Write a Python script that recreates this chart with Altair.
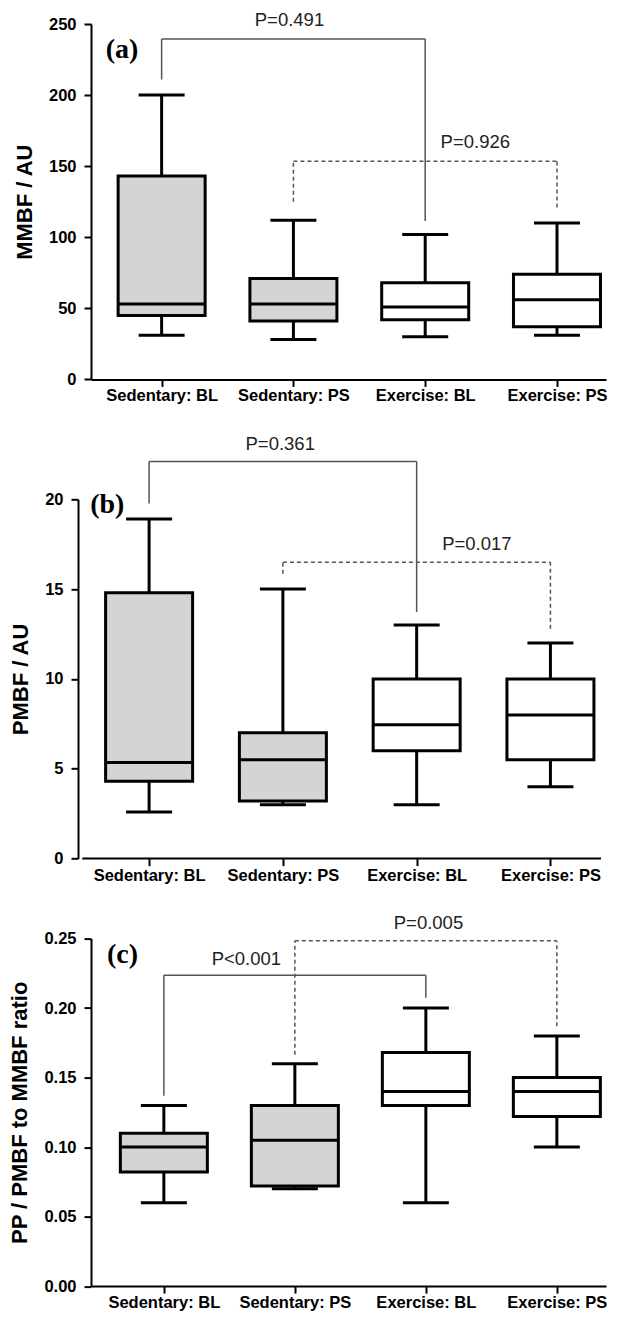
import altair as alt
import pandas as pd

categories = ["Sedentary: BL", "Sedentary: PS", "Exercise: BL", "Exercise: PS"]
positions = [0, 1, 2, 3]
box_fill = ["#d4d4d4", "#d4d4d4", "#ffffff", "#ffffff"]

# ---- panel (a) MMBF / AU ----
a_lo = [31, 28, 30, 31]
a_q1 = [45, 41, 42, 37]
a_med = [53, 53, 51, 56]
a_q3 = [143, 71, 68, 74]
a_hi = [200, 112, 102, 110]
a_br_from = [0, 1]
a_br_to = [2, 3]
a_br_top = [239.5, 153.5]
a_br_left = [211, 125]
a_br_right = [111.5, 121]
a_br_style = ["solid", "dashed"]
a_p_text = ["P=0.491", "P=0.926"]
a_p_x = [0.97, 2.38]
a_p_y = [252.5, 166.7]

# ---- panel (b) PMBF / AU ----
b_lo = [2.6, 3.0, 3.0, 4.0]
b_q1 = [4.3, 3.2, 6.0, 5.5]
b_med = [5.35, 5.5, 7.45, 8.0]
b_q3 = [14.8, 7.0, 10.0, 10.0]
b_hi = [18.9, 15.0, 13.0, 12.0]
b_br_from = [0, 1]
b_br_to = [2, 3]
b_br_top = [22.1, 16.5]
b_br_left = [19.77, 15.85]
b_br_right = [13.73, 12.8]
b_br_style = ["solid", "dashed"]
b_p_text = ["P=0.361", "P=0.017"]
b_p_x = [0.98, 2.45]
b_p_y = [23.1, 17.5]

# ---- panel (c) PP / PMBF to MMBF ratio ----
c_lo = [0.06, 0.07, 0.06, 0.10]
c_q1 = [0.082, 0.072, 0.13, 0.122]
c_med = [0.10, 0.105, 0.14, 0.14]
c_q3 = [0.11, 0.13, 0.168, 0.15]
c_hi = [0.13, 0.16, 0.20, 0.18]
c_br_from = [0, 1]
c_br_to = [2, 3]
c_br_top = [0.2237, 0.2484]
c_br_left = [0.137, 0.1665]
c_br_right = [0.2075, 0.187]
c_br_style = ["solid", "dashed"]
c_p_text = ["P<0.001", "P=0.005"]
c_p_x = [0.63, 2.02]
c_p_y = [0.2352, 0.2611]

label_expr = "[" + ",".join("'%s'" % c for c in categories) + "][datum.value]"


def panel(lo, q1, med, q3, hi, br_from, br_to, br_top, br_left, br_right, br_style,
          p_text, p_x, p_y, tag, tag_x, tag_y, ytitle, ydomain, yticks, yfmt,
          xdomain, width, height, yoffset=0):
    box = pd.DataFrame({"pos": positions, "cat": categories, "lo": lo, "q1": q1,
                        "med": med, "q3": q3, "hi": hi, "fill": box_fill})
    br = pd.DataFrame({"x1": br_from, "x2": br_to, "top": br_top,
                       "yl": br_left, "yr": br_right, "style": br_style})
    pl = pd.DataFrame({"x": p_x, "y": p_y, "t": p_text})
    tg = pd.DataFrame({"x": [tag_x], "y": [tag_y], "t": [tag]})

    xs = alt.Scale(domain=xdomain, nice=False, zero=False)
    ys = alt.Scale(domain=ydomain, nice=False, zero=True)
    xax = alt.Axis(values=positions, labelExpr=label_expr, title=None,
                   labelFontSize=16.5, labelPadding=1.5, labelFlush=False,
                   labelOverlap=False, grid=False, domain=(yoffset == 0))
    yax = alt.Axis(values=yticks, format=yfmt, title=ytitle, labelFontSize=16.5,
                   labelPadding=8, titleFontSize=22, titlePadding=12, grid=False,
                   offset=yoffset)

    def X(f):
        return alt.X(f, type="quantitative", scale=xs, axis=xax)

    def Y(f):
        return alt.Y(f, type="quantitative", scale=ys, axis=yax)

    dash = alt.StrokeDash("style:N", scale=alt.Scale(domain=["solid", "dashed"],
                                                      range=[[1, 0], [4, 3]]), legend=None)

    base = alt.Chart(box)
    whisk = base.mark_rule(color="black", strokeWidth=3).encode(x=X("pos"), y=Y("lo"), y2="hi")
    boxes = base.mark_bar(size=87, stroke="black", strokeWidth=3).encode(
        x=X("pos"), y=Y("q1"), y2="q3", fill=alt.Fill("fill:N", scale=None))
    medl = base.mark_tick(orient="horizontal", size=87, thickness=3, color="black", opacity=1).encode(
        x=X("pos"), y=Y("med"))
    cap_lo = base.mark_tick(orient="horizontal", size=46, thickness=3, color="black", opacity=1).encode(
        x=X("pos"), y=Y("lo"))
    cap_hi = base.mark_tick(orient="horizontal", size=46, thickness=3, color="black", opacity=1).encode(
        x=X("pos"), y=Y("hi"))

    bb = alt.Chart(br)
    leg_l = bb.mark_rule(color="#555555", strokeWidth=1.5).encode(
        x=X("x1"), y=Y("yl"), y2="top", strokeDash=dash)
    leg_r = bb.mark_rule(color="#555555", strokeWidth=1.5).encode(
        x=X("x2"), y=Y("yr"), y2="top", strokeDash=dash)
    hor = bb.mark_rule(color="#555555", strokeWidth=1.5).encode(
        x=X("x1"), x2="x2", y=Y("top"), strokeDash=dash)

    ptxt = alt.Chart(pl).mark_text(font="Liberation Sans", fontSize=18.5, color="#222222",
                                   baseline="middle", align="center").encode(
        x=X("x"), y=Y("y"), text="t:N")
    ttxt = alt.Chart(tg).mark_text(font="Liberation Serif", fontSize=28, fontWeight="bold",
                                   color="black", baseline="alphabetic", align="center").encode(
        x=X("x"), y=Y("y"), text="t:N")

    layers = [whisk, boxes, medl, cap_lo, cap_hi, leg_l, leg_r, hor, ptxt, ttxt]
    if yoffset:
        # x baseline continued to the displaced y axis
        upp = (xdomain[1] - xdomain[0]) / width
        base_df = pd.DataFrame({"x1": [xdomain[0] - (yoffset + 1) * upp],
                                "x2": [xdomain[1]], "y": [ydomain[0]]})
        layers.append(alt.Chart(base_df).mark_rule(color="black", strokeWidth=2).encode(
            x=X("x1"), x2="x2", y=Y("y")))
    return alt.layer(*layers).properties(width=width, height=height)


pa = panel(a_lo, a_q1, a_med, a_q3, a_hi, a_br_from, a_br_to, a_br_top, a_br_left, a_br_right,
           a_br_style, a_p_text, a_p_x, a_p_y, "(a)", -0.30, 226,
           "MMBF / AU", [0, 250], [0, 50, 100, 150, 200, 250], "d",
           [-0.498, 3.334], 515, 355.4)
pb = panel(b_lo, b_q1, b_med, b_q3, b_hi, b_br_from, b_br_to, b_br_top, b_br_left, b_br_right,
           b_br_style, b_p_text, b_p_x, b_p_y, "(b)", -0.313, 19.26,
           "PMBF / AU", [0, 20], [0, 5, 10, 15, 20], "d",
           [-0.397, 3.378], 515, 359.3, yoffset=13)
pc = panel(c_lo, c_q1, c_med, c_q3, c_hi, c_br_from, c_br_to, c_br_top, c_br_left, c_br_right,
           c_br_style, c_p_text, c_p_x, c_p_y, "(c)", -0.316, 0.2325,
           "PP / PMBF to MMBF ratio", [0, 0.25], [0, 0.05, 0.10, 0.15, 0.20, 0.25], ".2f",
           [-0.518, 3.337], 515, 347.5)

chart = alt.vconcat(pa, pb, pc, spacing=29.3).properties(
    padding={"top": 3, "left": 0, "right": 0, "bottom": 0}).configure_view(
    stroke=None).configure_axis(
    domainColor="black", domainWidth=2, tickColor="black", tickWidth=2, tickSize=7,
    labelFont="Liberation Sans", labelFontWeight="bold", labelColor="black",
    titleFont="Liberation Sans", titleFontWeight="bold", titleColor="black")

chart.save("out.html", embed_options={"renderer": "svg", "actions": False})
